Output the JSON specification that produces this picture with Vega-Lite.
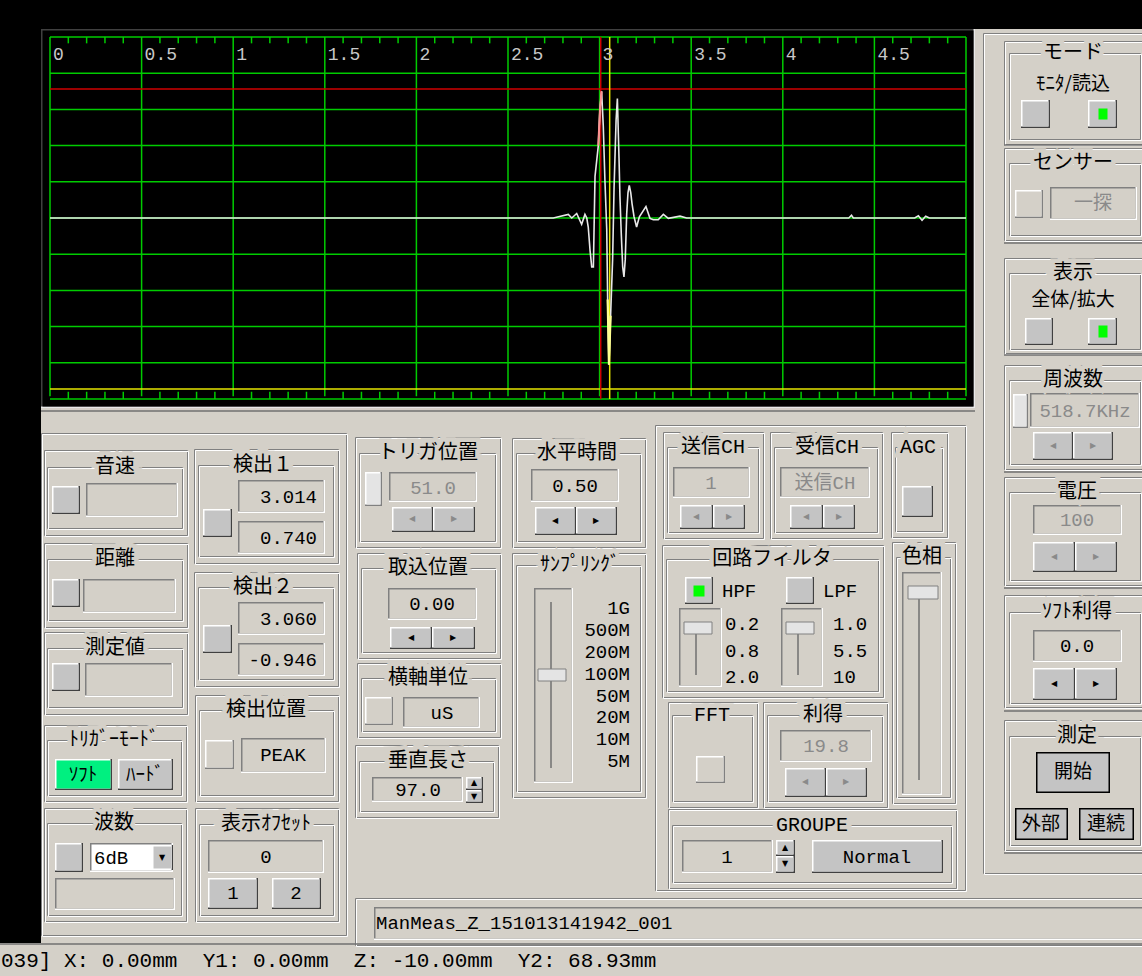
{
"$schema": "https://vega.github.io/schema/vega-lite/v6.json",
"width": 1142, "height": 976, "autosize": {"type": "none"}, "padding": 0,
"background": "#000000",
"config": {"view": {"stroke": null}},
"datasets": {
"bg": [{"x":975,"x2":1142,"y":29,"y2":976},{"x":41,"x2":1142,"y":406,"y2":976},{"x":0,"x2":1142,"y":943,"y2":976}],
"w": [
{"k":"pframe","x":41,"x2":975,"y":29,"y2":408},
{"k":"btn","x":1021,"x2":1050,"y":100,"y2":128},{"k":"btn","x":1088,"x2":1117,"y":100,"y2":128},{"k":"green","x":1097,"x2":1109,"y":107,"y2":121},
{"k":"flat","x":1015,"x2":1043,"y":190,"y2":218},{"k":"field","x":1050,"x2":1137,"y":187,"y2":220},
{"k":"btn","x":1025,"x2":1053,"y":318,"y2":345},{"k":"btn","x":1088,"x2":1117,"y":318,"y2":345},{"k":"green","x":1097,"x2":1109,"y":324,"y2":339},
{"k":"thumb","x":1013,"x2":1028,"y":394,"y2":428},{"k":"field","x":1030,"x2":1140,"y":393,"y2":428},{"k":"btn","x":1033,"x2":1073,"y":432,"y2":460},{"k":"btn","x":1073,"x2":1113,"y":432,"y2":460},
{"k":"field","x":1033,"x2":1122,"y":505,"y2":535},{"k":"btn","x":1033,"x2":1075,"y":542,"y2":572},{"k":"btn","x":1075,"x2":1117,"y":542,"y2":572},
{"k":"field","x":1033,"x2":1122,"y":630,"y2":662},{"k":"btn","x":1033,"x2":1075,"y":668,"y2":700},{"k":"btn","x":1075,"x2":1117,"y":668,"y2":700},
{"k":"big","x":1036,"x2":1110,"y":752,"y2":793},{"k":"big","x":1015,"x2":1068,"y":808,"y2":840},{"k":"big","x":1079,"x2":1134,"y":808,"y2":840},
{"k":"btn","x":52,"x2":80,"y":486,"y2":514},{"k":"field","x":86,"x2":178,"y":483,"y2":517},
{"k":"btn","x":52,"x2":80,"y":579,"y2":607},{"k":"field","x":83,"x2":176,"y":579,"y2":613},
{"k":"btn","x":52,"x2":80,"y":663,"y2":691},{"k":"field","x":85,"x2":173,"y":663,"y2":697},
{"k":"soft","x":55,"x2":112,"y":759,"y2":790},{"k":"btn","x":118,"x2":173,"y":759,"y2":790},
{"k":"btn","x":55,"x2":83,"y":843,"y2":872},{"k":"white","x":90,"x2":173,"y":843,"y2":872},{"k":"btn","x":152,"x2":173,"y":845,"y2":870},{"k":"field","x":55,"x2":175,"y":878,"y2":910},
{"k":"field","x":238,"x2":325,"y":480,"y2":513},{"k":"field","x":238,"x2":325,"y":521,"y2":554},{"k":"btn","x":203,"x2":232,"y":509,"y2":537},
{"k":"field","x":238,"x2":325,"y":602,"y2":635},{"k":"field","x":238,"x2":325,"y":643,"y2":676},{"k":"btn","x":203,"x2":232,"y":625,"y2":653},
{"k":"flat","x":205,"x2":234,"y":740,"y2":769},{"k":"field","x":241,"x2":326,"y":738,"y2":773},
{"k":"field","x":208,"x2":324,"y":840,"y2":873},{"k":"btn","x":208,"x2":258,"y":878,"y2":909},{"k":"btn","x":272,"x2":321,"y":878,"y2":909},
{"k":"thumb","x":365,"x2":382,"y":472,"y2":506},{"k":"field","x":389,"x2":477,"y":472,"y2":502},{"k":"btn","x":392,"x2":433,"y":507,"y2":532},{"k":"btn","x":433,"x2":475,"y":507,"y2":532},
{"k":"field","x":388,"x2":477,"y":588,"y2":620},{"k":"btn","x":390,"x2":432,"y":627,"y2":649},{"k":"btn","x":432,"x2":475,"y":627,"y2":649},
{"k":"flat","x":365,"x2":393,"y":697,"y2":725},{"k":"field","x":403,"x2":480,"y":697,"y2":728},
{"k":"field","x":372,"x2":463,"y":777,"y2":802},{"k":"btn","x":466,"x2":483,"y":777,"y2":790},{"k":"btn","x":466,"x2":483,"y":790,"y2":803},
{"k":"field","x":531,"x2":619,"y":469,"y2":502},{"k":"btn","x":535,"x2":576,"y":507,"y2":535},{"k":"btn","x":576,"x2":617,"y":507,"y2":535},
{"k":"field","x":534,"x2":573,"y":588,"y2":783},
{"k":"field","x":673,"x2":750,"y":467,"y2":498},{"k":"btn","x":680,"x2":713,"y":505,"y2":529},{"k":"btn","x":713,"x2":745,"y":505,"y2":529},
{"k":"field","x":780,"x2":870,"y":467,"y2":498},{"k":"btn","x":790,"x2":823,"y":505,"y2":529},{"k":"btn","x":823,"x2":855,"y":505,"y2":529},
{"k":"btn","x":902,"x2":933,"y":486,"y2":517},
{"k":"btn","x":685,"x2":713,"y":577,"y2":604},{"k":"green","x":692,"x2":706,"y":584,"y2":598},{"k":"btn","x":786,"x2":814,"y":577,"y2":604},
{"k":"field","x":679,"x2":722,"y":608,"y2":687},{"k":"field","x":781,"x2":823,"y":608,"y2":687},
{"k":"field","x":902,"x2":942,"y":572,"y2":795},
{"k":"flat","x":696,"x2":725,"y":756,"y2":783},
{"k":"field","x":780,"x2":872,"y":730,"y2":762},{"k":"btn","x":785,"x2":826,"y":768,"y2":797},{"k":"btn","x":826,"x2":867,"y":768,"y2":797},
{"k":"field","x":682,"x2":773,"y":840,"y2":873},{"k":"btn","x":776,"x2":795,"y":840,"y2":856},{"k":"btn","x":776,"x2":795,"y":856,"y2":873},{"k":"btn","x":812,"x2":943,"y":840,"y2":873},
{"k":"field","x":374,"x2":1150,"y":907,"y2":940}
],
"w2": [
{"k":"thumb","x":538,"x2":566,"y":669,"y2":681},
{"k":"thumb","x":684,"x2":712,"y":622,"y2":634},
{"k":"thumb","x":786,"x2":814,"y":622,"y2":634},
{"k":"thumb","x":908,"x2":938,"y":586,"y2":599}
],
"fr": [
{"x":1004,"x2":1142,"y":41,"y2":144},{"x":1009,"x2":1140,"y":53,"y2":139},
{"x":1004,"x2":1142,"y":148,"y2":240},{"x":1009,"x2":1140,"y":163,"y2":235},
{"x":1004,"x2":1142,"y":258,"y2":353},{"x":1009,"x2":1140,"y":273,"y2":349},
{"x":1004,"x2":1142,"y":365,"y2":469},{"x":1009,"x2":1140,"y":380,"y2":464},
{"x":1004,"x2":1142,"y":477,"y2":585},{"x":1009,"x2":1140,"y":492,"y2":580},
{"x":1004,"x2":1142,"y":595,"y2":707},{"x":1009,"x2":1140,"y":612,"y2":703},
{"x":1004,"x2":1142,"y":720,"y2":850},{"x":1009,"x2":1140,"y":736,"y2":845},
{"x":983,"x2":1150,"y":33,"y2":873},
{"x":41,"x2":346,"y":433,"y2":935},
{"x":655,"x2":965,"y":425,"y2":890},
{"x":44,"x2":187,"y":450,"y2":535},{"x":47,"x2":182,"y":467,"y2":528},
{"x":44,"x2":187,"y":543,"y2":627},{"x":47,"x2":182,"y":559,"y2":620},
{"x":44,"x2":187,"y":632,"y2":714},{"x":47,"x2":182,"y":648,"y2":707},
{"x":44,"x2":186,"y":725,"y2":801},{"x":47,"x2":181,"y":740,"y2":795},
{"x":44,"x2":186,"y":808,"y2":921},{"x":47,"x2":181,"y":823,"y2":915},
{"x":194,"x2":338,"y":449,"y2":563},{"x":198,"x2":333,"y":465,"y2":556},
{"x":194,"x2":338,"y":572,"y2":686},{"x":198,"x2":333,"y":587,"y2":679},
{"x":195,"x2":338,"y":695,"y2":801},{"x":199,"x2":333,"y":710,"y2":795},
{"x":195,"x2":338,"y":808,"y2":921},{"x":199,"x2":333,"y":824,"y2":915},
{"x":355,"x2":500,"y":437,"y2":547},{"x":359,"x2":495,"y":453,"y2":541},
{"x":357,"x2":500,"y":553,"y2":658},{"x":361,"x2":495,"y":568,"y2":652},
{"x":357,"x2":500,"y":663,"y2":737},{"x":361,"x2":495,"y":678,"y2":731},
{"x":355,"x2":498,"y":745,"y2":817},{"x":359,"x2":493,"y":761,"y2":811},
{"x":512,"x2":645,"y":438,"y2":547},{"x":516,"x2":640,"y":453,"y2":541},
{"x":512,"x2":645,"y":553,"y2":797},{"x":516,"x2":640,"y":565,"y2":791},
{"x":663,"x2":763,"y":432,"y2":538},{"x":667,"x2":758,"y":447,"y2":532},
{"x":770,"x2":882,"y":432,"y2":538},{"x":774,"x2":877,"y":447,"y2":532},
{"x":891,"x2":947,"y":432,"y2":537},{"x":895,"x2":942,"y":447,"y2":531},
{"x":662,"x2":883,"y":545,"y2":697},{"x":666,"x2":878,"y":559,"y2":691},
{"x":892,"x2":955,"y":542,"y2":803},{"x":896,"x2":950,"y":557,"y2":797},
{"x":668,"x2":757,"y":702,"y2":807},{"x":672,"x2":752,"y":715,"y2":801},
{"x":763,"x2":887,"y":702,"y2":807},{"x":767,"x2":882,"y":715,"y2":801},
{"x":668,"x2":956,"y":809,"y2":888},{"x":672,"x2":951,"y":825,"y2":882},
{"x":355,"x2":1150,"y":898,"y2":945}
],
"ln": [
{"x":1004,"x2":1142,"y":145,"y2":145},{"x":1004,"x2":1142,"y":243,"y2":243},{"x":1004,"x2":1142,"y":355,"y2":355},
{"x":1004,"x2":1142,"y":472,"y2":472},{"x":1004,"x2":1142,"y":588,"y2":588},{"x":1004,"x2":1142,"y":711,"y2":711},{"x":1004,"x2":1142,"y":853,"y2":853},
{"x":0,"x2":1142,"y":944,"y2":944},{"x":41,"x2":975,"y":411,"y2":411},
{"x":551,"x2":551,"y":602,"y2":768},{"x":696,"x2":696,"y":634,"y2":675},{"x":798,"x2":798,"y":634,"y2":675},{"x":919,"x2":919,"y":599,"y2":780}
],
"gx": [{"v":0},{"v":0.5},{"v":1},{"v":1.5},{"v":2},{"v":2.5},{"v":3},{"v":3.5},{"v":4},{"v":4.5},{"v":5}],
"gy": [{"v":-1},{"v":-0.8},{"v":-0.6},{"v":-0.4},{"v":-0.2},{"v":0},{"v":0.2},{"v":0.4},{"v":0.6},{"v":0.8},{"v":1}],
"mt": [{"v":0.1},{"v":0.2},{"v":0.3},{"v":0.4},{"v":0.6},{"v":0.7},{"v":0.8},{"v":0.9},{"v":1.1},{"v":1.2},{"v":1.3},{"v":1.4},{"v":1.6},{"v":1.7},{"v":1.8},{"v":1.9},{"v":2.1},{"v":2.2},{"v":2.3},{"v":2.4},{"v":2.6},{"v":2.7},{"v":2.8},{"v":2.9},{"v":3.1},{"v":3.2},{"v":3.3},{"v":3.4},{"v":3.6},{"v":3.7},{"v":3.8},{"v":3.9},{"v":4.1},{"v":4.2},{"v":4.3},{"v":4.4},{"v":4.6},{"v":4.7},{"v":4.8},{"v":4.9}],
"xl": [{"v":0,"t":"0"},{"v":0.5,"t":"0.5"},{"v":1,"t":"1"},{"v":1.5,"t":"1.5"},{"v":2,"t":"2"},{"v":2.5,"t":"2.5"},{"v":3,"t":"3"},{"v":3.5,"t":"3.5"},{"v":4,"t":"4"},{"v":4.5,"t":"4.5"}],
"cur": [{"c":"gate1","t":3.006,"a":0.713},{"c":"gate2","t":3.055,"a":-0.945}],
"wave": [
{"t":0,"a":0},{"t":2.747,"a":0},{"t":2.829,"a":0.02},{"t":2.848,"a":0},{"t":2.875,"a":0.025},{"t":2.902,"a":-0.035},{"t":2.92,"a":0.02},{"t":2.93,"a":0},
{"t":2.938,"a":-0.05},{"t":2.948,"a":-0.18},{"t":2.957,"a":-0.27},{"t":2.966,"a":-0.27},{"t":2.975,"a":0.23},{"t":2.993,"a":0.4},{"t":3.002,"a":0.6},{"t":3.011,"a":0.7},
{"t":3.02,"a":0.51},{"t":3.029,"a":0.21},{"t":3.039,"a":-0.065},{"t":3.044,"a":-0.45},{"t":3.051,"a":-0.81},{"t":3.06,"a":-0.54},{"t":3.071,"a":-0.23},{"t":3.079,"a":0.17},
{"t":3.09,"a":0.54},{"t":3.097,"a":0.66},{"t":3.106,"a":0.33},{"t":3.111,"a":0.12},{"t":3.118,"a":-0.08},{"t":3.126,"a":-0.27},{"t":3.133,"a":-0.325},{"t":3.14,"a":-0.23},
{"t":3.148,"a":0.025},{"t":3.155,"a":0.14},{"t":3.162,"a":0.18},{"t":3.17,"a":0.14},{"t":3.177,"a":0.08},{"t":3.188,"a":0.007},{"t":3.202,"a":-0.05},{"t":3.217,"a":0.007},
{"t":3.253,"a":0.063},{"t":3.275,"a":-0.002},{"t":3.293,"a":-0.01},{"t":3.32,"a":-0.01},{"t":3.348,"a":0.02},{"t":3.375,"a":-0.002},{"t":3.439,"a":0.01},{"t":3.475,"a":0},
{"t":4.36,"a":0},{"t":4.375,"a":0.015},{"t":4.385,"a":0},{"t":4.72,"a":0},{"t":4.74,"a":0.012},{"t":4.76,"a":-0.012},{"t":4.78,"a":0.01},{"t":4.8,"a":0},{"t":5,"a":0}
],
"tt": [
{"t":"モード","x":1073,"y":53},{"t":"センサー","x":1073,"y":163},{"t":"表示","x":1073,"y":273},{"t":"周波数","x":1073,"y":380},{"t":"電圧","x":1077,"y":492},{"t":"ｿﾌﾄ利得","x":1077,"y":612},{"t":"測定","x":1077,"y":736},
{"t":"音速","x":115,"y":467},{"t":"距離","x":115,"y":559},{"t":"測定値","x":115,"y":648},{"t":"ﾄﾘｶﾞｰﾓｰﾄﾞ","x":114,"y":740},{"t":"波数","x":114,"y":823},
{"t":"検出１","x":263,"y":465},{"t":"検出２","x":263,"y":587},{"t":"検出位置","x":266,"y":710},{"t":"表示ｵﾌｾｯﾄ","x":266,"y":824},
{"t":"トリガ位置","x":428,"y":453},{"t":"取込位置","x":428,"y":568},{"t":"横軸単位","x":428,"y":678},{"t":"垂直長さ","x":428,"y":761},
{"t":"水平時間","x":577,"y":453},{"t":"ｻﾝﾌﾟﾘﾝｸﾞ","x":580,"y":565},
{"t":"送信CH","x":713,"y":447},{"t":"受信CH","x":827,"y":447},{"t":"AGC","x":918,"y":447},{"t":"回路フィルタ","x":772,"y":559},{"t":"色相","x":922,"y":557},{"t":"FFT","x":712,"y":715},{"t":"利得","x":823,"y":715},{"t":"GROUPE","x":812,"y":825}
],
"sub": [{"t":"ﾓﾆﾀ/読込","x":1073,"y":84},{"t":"全体/拡大","x":1073,"y":300}],
"vc": [
{"t":"0.00","x":432,"y":604},{"t":"uS","x":442,"y":713},{"t":"97.0","x":418,"y":790},{"t":"0.50","x":575,"y":486},{"t":"0.0","x":1077,"y":646},{"t":"PEAK","x":283,"y":755},
{"t":"0","x":266,"y":857},{"t":"1","x":233,"y":893},{"t":"2","x":296,"y":893},{"t":"1","x":727,"y":857},{"t":"Normal","x":877,"y":857},
{"t":"開始","x":1073,"y":772},{"t":"外部","x":1041,"y":824},{"t":"連続","x":1106,"y":824},{"t":"ｿﾌﾄ","x":83,"y":775},{"t":"ﾊｰﾄﾞ","x":145,"y":775}
],
"vg": [
{"t":"51.0","x":433,"y":488},{"t":"1","x":711,"y":483},{"t":"送信CH","x":825,"y":483},{"t":"19.8","x":826,"y":746},{"t":"518.7KHz","x":1085,"y":411},{"t":"100","x":1077,"y":520},{"t":"一探","x":1093,"y":203}
],
"vr": [
{"t":"3.014","x":317,"y":497},{"t":"0.740","x":317,"y":538},{"t":"3.060","x":317,"y":619},{"t":"-0.946","x":317,"y":660},
{"t":"1G","x":630,"y":608},{"t":"500M","x":630,"y":630},{"t":"200M","x":630,"y":652},{"t":"100M","x":630,"y":674},{"t":"50M","x":630,"y":696},{"t":"20M","x":630,"y":717},{"t":"10M","x":630,"y":739},{"t":"5M","x":630,"y":761}
],
"vl": [
{"t":"6dB","x":94,"y":858},{"t":"HPF","x":722,"y":591},{"t":"LPF","x":823,"y":591},
{"t":"0.2","x":725,"y":624},{"t":"0.8","x":725,"y":651},{"t":"2.0","x":725,"y":677},{"t":"1.0","x":833,"y":624},{"t":"5.5","x":833,"y":651},{"t":"10","x":833,"y":677},
{"t":"ManMeas_Z_151013141942_001","x":376,"y":923}
],
"status": [{"t":"039] X: 0.00mm\u00a0\u00a0Y1: 0.00mm\u00a0\u00a0Z: -10.00mm\u00a0\u00a0Y2: 68.93mm","x":1,"y":961}],
"arB": [
{"t":"◀","x":1054,"y":684},{"t":"▶","x":1096,"y":684},{"t":"◀","x":411,"y":638},{"t":"▶","x":453,"y":638},{"t":"◀","x":555,"y":521},{"t":"▶","x":596,"y":521},
{"t":"▲","x":474,"y":783},{"t":"▼","x":474,"y":797},{"t":"▲","x":785,"y":848},{"t":"▼","x":785,"y":864},{"t":"▼","x":162,"y":858}
],
"arG": [
{"t":"◀","x":1053,"y":446},{"t":"▶","x":1093,"y":446},{"t":"◀","x":1054,"y":557},{"t":"▶","x":1096,"y":557},{"t":"◀","x":412,"y":519},{"t":"▶","x":454,"y":519},
{"t":"◀","x":696,"y":517},{"t":"▶","x":729,"y":517},{"t":"◀","x":806,"y":517},{"t":"▶","x":839,"y":517},{"t":"◀","x":805,"y":782},{"t":"▶","x":846,"y":782}
]
},
"layer": [
{"data":{"name":"bg"},"mark":{"type":"rect","fill":"#D4D0C8"},
 "encoding":{"x":{"field":"x","type":"quantitative","scale":{"domain":[0,1142],"range":[0,1142],"nice":false,"zero":false},"axis":null},"x2":{"field":"x2"},
 "y":{"field":"y","type":"quantitative","scale":{"domain":[0,976],"range":[0,976],"nice":false,"zero":false},"axis":null},"y2":{"field":"y2"}}},
{"data":{"name":"w"},"mark":{"type":"rect"},
 "encoding":{"x":{"field":"x","type":"quantitative","scale":{"domain":[0,1142],"range":[0,1142],"nice":false,"zero":false},"axis":null},"x2":{"field":"x2"},
 "y":{"field":"y","type":"quantitative","scale":{"domain":[0,976],"range":[0,976],"nice":false,"zero":false},"axis":null},"y2":{"field":"y2"},
 "fill":{"field":"k","type":"nominal","legend":null,"scale":{"domain":["btn","big","field","flat","green","soft","white","thumb","pframe"],"range":["#404040","#000000","#FFFFFF","#808080","#00FF00","#404040","#FFFFFF","#808080","#E8E8E8"]}}}},
{"data":{"name":"w"},"mark":{"type":"rect","x2Offset":-1.5,"y2Offset":-1.5},
 "encoding":{"x":{"field":"x","type":"quantitative","scale":{"domain":[0,1142],"range":[0,1142],"nice":false,"zero":false},"axis":null},"x2":{"field":"x2"},
 "y":{"field":"y","type":"quantitative","scale":{"domain":[0,976],"range":[0,976],"nice":false,"zero":false},"axis":null},"y2":{"field":"y2"},
 "fill":{"field":"k","type":"nominal","legend":null,"scale":{"domain":["btn","big","field","flat","green","soft","white","thumb","pframe"],"range":["#FFFFFF","#000000","#808080","#FFFFFF","#00FF00","#FFFFFF","#808080","#FFFFFF","#404040"]}}}},
{"data":{"name":"w"},"mark":{"type":"rect","xOffset":1.5,"yOffset":1.5,"x2Offset":-1.5,"y2Offset":-1.5},
 "encoding":{"x":{"field":"x","type":"quantitative","scale":{"domain":[0,1142],"range":[0,1142],"nice":false,"zero":false},"axis":null},"x2":{"field":"x2"},
 "y":{"field":"y","type":"quantitative","scale":{"domain":[0,976],"range":[0,976],"nice":false,"zero":false},"axis":null},"y2":{"field":"y2"},
 "fill":{"field":"k","type":"nominal","legend":null,"scale":{"domain":["btn","big","field","flat","green","soft","white","thumb","pframe"],"range":["#C4C4C4","#C4C4C4","#D4D0C8","#D4D0C8","#00FF00","#00F080","#FFFFFF","#E4E4E4","#000000"]}}}},
{"data":{"name":"fr"},"mark":{"type":"rect","fill":"transparent","stroke":"#808080","strokeWidth":1,"xOffset":0.5,"yOffset":0.5,"x2Offset":0.5,"y2Offset":0.5},
 "encoding":{"x":{"field":"x","type":"quantitative","scale":{"domain":[0,1142],"range":[0,1142],"nice":false,"zero":false},"axis":null},"x2":{"field":"x2"},
 "y":{"field":"y","type":"quantitative","scale":{"domain":[0,976],"range":[0,976],"nice":false,"zero":false},"axis":null},"y2":{"field":"y2"}}},
{"data":{"name":"fr"},"mark":{"type":"rect","fill":"transparent","stroke":"#FFFFFF","strokeWidth":1,"xOffset":1.5,"yOffset":1.5,"x2Offset":1.5,"y2Offset":1.5},
 "encoding":{"x":{"field":"x","type":"quantitative","scale":{"domain":[0,1142],"range":[0,1142],"nice":false,"zero":false},"axis":null},"x2":{"field":"x2"},
 "y":{"field":"y","type":"quantitative","scale":{"domain":[0,976],"range":[0,976],"nice":false,"zero":false},"axis":null},"y2":{"field":"y2"}}},
{"data":{"name":"ln"},"mark":{"type":"rule","stroke":"#707070","strokeWidth":1.5},
 "encoding":{"x":{"field":"x","type":"quantitative","scale":{"domain":[0,1142],"range":[0,1142],"nice":false,"zero":false},"axis":null},"x2":{"field":"x2"},
 "y":{"field":"y","type":"quantitative","scale":{"domain":[0,976],"range":[0,976],"nice":false,"zero":false},"axis":null},"y2":{"field":"y2"}}},
{"data":{"name":"w2"},"mark":{"type":"rect","fill":"#E4E4E4","stroke":"#808080","strokeWidth":1},
 "encoding":{"x":{"field":"x","type":"quantitative","scale":{"domain":[0,1142],"range":[0,1142],"nice":false,"zero":false},"axis":null},"x2":{"field":"x2"},
 "y":{"field":"y","type":"quantitative","scale":{"domain":[0,976],"range":[0,976],"nice":false,"zero":false},"axis":null},"y2":{"field":"y2"}}},
{"data":{"name":"gx"},"mark":{"type":"rule","stroke":"#00CC00","strokeWidth":1.5},
 "encoding":{"x":{"field":"v","type":"quantitative","scale":{"domain":[0,5],"range":[50,966],"nice":false,"zero":false},"axis":null},
 "y":{"datum":-0.985,"type":"quantitative","scale":{"domain":[-1,1],"range":[399,37],"nice":false,"zero":false},"axis":null},"y2":{"datum":1}}},
{"data":{"name":"gy"},"mark":{"type":"rule","stroke":"#00CC00","strokeWidth":1.5},
 "encoding":{"y":{"field":"v","type":"quantitative","scale":{"domain":[-1,1],"range":[399,37],"nice":false,"zero":false},"axis":null},
 "x":{"datum":0,"type":"quantitative","scale":{"domain":[0,5],"range":[50,966],"nice":false,"zero":false},"axis":null},"x2":{"datum":5}}},
{"data":{"name":"mt"},"mark":{"type":"rule","stroke":"#00CC00","strokeWidth":1.5},
 "encoding":{"x":{"field":"v","type":"quantitative","scale":{"domain":[0,5],"range":[50,966],"nice":false,"zero":false},"axis":null},
 "y":{"datum":1,"type":"quantitative","scale":{"domain":[-1,1],"range":[399,37],"nice":false,"zero":false},"axis":null},"y2":{"datum":0.965}}},
{"data":{"name":"mt"},"mark":{"type":"rule","stroke":"#00CC00","strokeWidth":1.5},
 "encoding":{"x":{"field":"v","type":"quantitative","scale":{"domain":[0,5],"range":[50,966],"nice":false,"zero":false},"axis":null},
 "y":{"datum":-1,"type":"quantitative","scale":{"domain":[-1,1],"range":[399,37],"nice":false,"zero":false},"axis":null},"y2":{"datum":-0.96}}},
{"data":{"name":"cur"},"mark":{"type":"rule","strokeWidth":1.5},
 "encoding":{"y":{"field":"a","type":"quantitative","scale":{"domain":[-1,1],"range":[399,37],"nice":false,"zero":false},"axis":null},
 "x":{"datum":0,"type":"quantitative","scale":{"domain":[0,5],"range":[50,966],"nice":false,"zero":false},"axis":null},"x2":{"datum":5},
 "stroke":{"field":"c","type":"nominal","legend":null,"scale":{"domain":["gate1","gate2"],"range":["#D00000","#E6E600"]}}}},
{"data":{"name":"cur"},"mark":{"type":"rule","strokeWidth":1.5},
 "encoding":{"x":{"field":"t","type":"quantitative","scale":{"domain":[0,5],"range":[50,966],"nice":false,"zero":false},"axis":null},
 "y":{"datum":-1,"type":"quantitative","scale":{"domain":[-1,1],"range":[399,37],"nice":false,"zero":false},"axis":null},"y2":{"datum":1},
 "stroke":{"field":"c","type":"nominal","legend":null,"scale":{"domain":["gate1","gate2"],"range":["#D00000","#E6E600"]}}}},
{"data":{"name":"xl"},"mark":{"type":"text","align":"left","baseline":"middle","dx":3,"font":"Liberation Mono","fontSize":18,"fill":"#C8C8C8"},
 "encoding":{"x":{"field":"v","type":"quantitative","scale":{"domain":[0,5],"range":[50,966],"nice":false,"zero":false},"axis":null},
 "y":{"datum":0.9,"type":"quantitative","scale":{"domain":[-1,1],"range":[399,37],"nice":false,"zero":false},"axis":null},"text":{"field":"t"}}},
{"data":{"name":"wave"},"mark":{"type":"line","stroke":"#E8E8E8","strokeWidth":1.6},
 "encoding":{"x":{"field":"t","type":"quantitative","scale":{"domain":[0,5],"range":[50,966],"nice":false,"zero":false},"axis":null},
 "y":{"field":"a","type":"quantitative","scale":{"domain":[-1,1],"range":[399,37],"nice":false,"zero":false},"axis":null}}},
{"data":{"name":"wave"},"transform":[{"filter":{"field":"t","range":[2.993,3.011]}}],"mark":{"type":"line","stroke":"#FF9090","strokeWidth":2},
 "encoding":{"x":{"field":"t","type":"quantitative","scale":{"domain":[0,5],"range":[50,966],"nice":false,"zero":false},"axis":null},
 "y":{"field":"a","type":"quantitative","scale":{"domain":[-1,1],"range":[399,37],"nice":false,"zero":false},"axis":null}}},
{"data":{"name":"wave"},"transform":[{"filter":{"field":"t","range":[3.044,3.06]}}],"mark":{"type":"line","stroke":"#FFFF90","strokeWidth":2.2},
 "encoding":{"x":{"field":"t","type":"quantitative","scale":{"domain":[0,5],"range":[50,966],"nice":false,"zero":false},"axis":null},
 "y":{"field":"a","type":"quantitative","scale":{"domain":[-1,1],"range":[399,37],"nice":false,"zero":false},"axis":null}}},
{"data":{"name":"tt"},"mark":{"type":"text","align":"center","baseline":"middle","font":"Liberation Mono, Noto Sans CJK JP","fontSize":20,"fill":"#D4D0C8","stroke":"#D4D0C8","strokeWidth":9},
 "encoding":{"x":{"field":"x","type":"quantitative","scale":{"domain":[0,1142],"range":[0,1142],"nice":false,"zero":false},"axis":null},
 "y":{"field":"y","type":"quantitative","scale":{"domain":[0,976],"range":[0,976],"nice":false,"zero":false},"axis":null},"text":{"field":"t"}}},
{"data":{"name":"tt"},"mark":{"type":"text","align":"center","baseline":"middle","font":"Liberation Mono, Noto Sans CJK JP","fontSize":20,"fill":"#000000"},
 "encoding":{"x":{"field":"x","type":"quantitative","scale":{"domain":[0,1142],"range":[0,1142],"nice":false,"zero":false},"axis":null},
 "y":{"field":"y","type":"quantitative","scale":{"domain":[0,976],"range":[0,976],"nice":false,"zero":false},"axis":null},"text":{"field":"t"}}},
{"data":{"name":"sub"},"mark":{"type":"text","align":"center","baseline":"middle","font":"Noto Sans CJK JP","fontSize":19,"fill":"#000000"},
 "encoding":{"x":{"field":"x","type":"quantitative","scale":{"domain":[0,1142],"range":[0,1142],"nice":false,"zero":false},"axis":null},
 "y":{"field":"y","type":"quantitative","scale":{"domain":[0,976],"range":[0,976],"nice":false,"zero":false},"axis":null},"text":{"field":"t"}}},
{"data":{"name":"vc"},"mark":{"type":"text","align":"center","baseline":"middle","font":"Liberation Mono, Noto Sans CJK JP","fontSize":19,"fill":"#000000"},
 "encoding":{"x":{"field":"x","type":"quantitative","scale":{"domain":[0,1142],"range":[0,1142],"nice":false,"zero":false},"axis":null},
 "y":{"field":"y","type":"quantitative","scale":{"domain":[0,976],"range":[0,976],"nice":false,"zero":false},"axis":null},"text":{"field":"t"}}},
{"data":{"name":"vg"},"mark":{"type":"text","align":"center","baseline":"middle","font":"Liberation Mono, Noto Sans CJK JP","fontSize":19,"fill":"#8A8A8A"},
 "encoding":{"x":{"field":"x","type":"quantitative","scale":{"domain":[0,1142],"range":[0,1142],"nice":false,"zero":false},"axis":null},
 "y":{"field":"y","type":"quantitative","scale":{"domain":[0,976],"range":[0,976],"nice":false,"zero":false},"axis":null},"text":{"field":"t"}}},
{"data":{"name":"vr"},"mark":{"type":"text","align":"right","baseline":"middle","font":"Liberation Mono","fontSize":19,"fill":"#000000"},
 "encoding":{"x":{"field":"x","type":"quantitative","scale":{"domain":[0,1142],"range":[0,1142],"nice":false,"zero":false},"axis":null},
 "y":{"field":"y","type":"quantitative","scale":{"domain":[0,976],"range":[0,976],"nice":false,"zero":false},"axis":null},"text":{"field":"t"}}},
{"data":{"name":"vl"},"mark":{"type":"text","align":"left","baseline":"middle","font":"Liberation Mono","fontSize":19,"fill":"#000000"},
 "encoding":{"x":{"field":"x","type":"quantitative","scale":{"domain":[0,1142],"range":[0,1142],"nice":false,"zero":false},"axis":null},
 "y":{"field":"y","type":"quantitative","scale":{"domain":[0,976],"range":[0,976],"nice":false,"zero":false},"axis":null},"text":{"field":"t"}}},
{"data":{"name":"status"},"mark":{"type":"text","align":"left","baseline":"middle","font":"Liberation Mono","fontSize":21,"fill":"#000000"},
 "encoding":{"x":{"field":"x","type":"quantitative","scale":{"domain":[0,1142],"range":[0,1142],"nice":false,"zero":false},"axis":null},
 "y":{"field":"y","type":"quantitative","scale":{"domain":[0,976],"range":[0,976],"nice":false,"zero":false},"axis":null},"text":{"field":"t"}}},
{"data":{"name":"arB"},"mark":{"type":"text","align":"center","baseline":"middle","font":"DejaVu Sans","fontSize":8,"fill":"#000000"},
 "encoding":{"x":{"field":"x","type":"quantitative","scale":{"domain":[0,1142],"range":[0,1142],"nice":false,"zero":false},"axis":null},
 "y":{"field":"y","type":"quantitative","scale":{"domain":[0,976],"range":[0,976],"nice":false,"zero":false},"axis":null},"text":{"field":"t"}}},
{"data":{"name":"arG"},"mark":{"type":"text","align":"center","baseline":"middle","font":"DejaVu Sans","fontSize":8,"fill":"#8A8A8A"},
 "encoding":{"x":{"field":"x","type":"quantitative","scale":{"domain":[0,1142],"range":[0,1142],"nice":false,"zero":false},"axis":null},
 "y":{"field":"y","type":"quantitative","scale":{"domain":[0,976],"range":[0,976],"nice":false,"zero":false},"axis":null},"text":{"field":"t"}}}
],
"resolve": {"scale": {"x": "independent", "y": "independent", "fill": "independent", "stroke": "independent"}}
}
